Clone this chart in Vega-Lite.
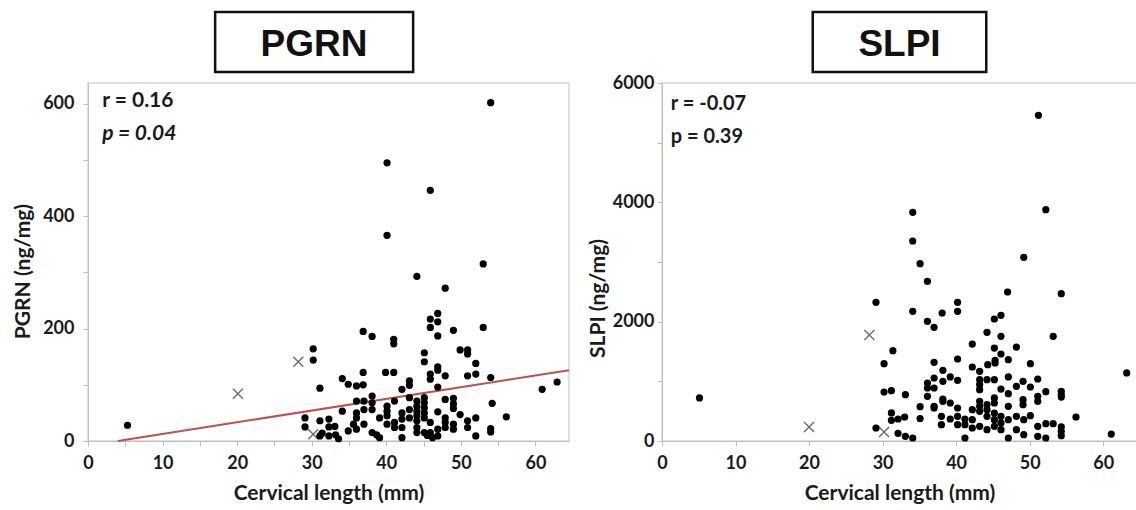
{
  "$schema": "https://vega.github.io/schema/vega-lite/v6.json",
  "padding": {"left": 11, "top": 10, "right": 0, "bottom": 0},
  "background": "white",
  "config": {"font": "Lato", "view": {"stroke": null}},
  "datasets": {
    "pgrnDots": [
      {"cl":5.3,"v":28},{"cl":29.1,"v":41},{"cl":29.1,"v":25},{"cl":30.2,"v":164},{"cl":30.2,"v":144},{"cl":31.1,"v":94},{"cl":31.1,"v":36},{"cl":31.1,"v":9},{"cl":31.4,"v":14},{"cl":32.3,"v":39},{"cl":32.3,"v":25},{"cl":32.3,"v":9},{"cl":33.1,"v":26},{"cl":33.2,"v":11},{"cl":33.6,"v":4},
      {"cl":34.1,"v":111},{"cl":34.1,"v":53},{"cl":34.9,"v":101},{"cl":34.9,"v":18},{"cl":35.6,"v":30},{"cl":36.0,"v":98},{"cl":36.0,"v":71},{"cl":36.0,"v":50},{"cl":36.0,"v":41},{"cl":36.0,"v":21},
      {"cl":36.9,"v":122},{"cl":36.9,"v":100},{"cl":36.9,"v":195},{"cl":37.0,"v":71},{"cl":37.0,"v":56},{"cl":37.0,"v":30},{"cl":38.1,"v":186},{"cl":38.1,"v":80},{"cl":38.1,"v":68},{"cl":38.1,"v":56},{"cl":38.1,"v":15},
      {"cl":38.7,"v":11},{"cl":39.1,"v":41},{"cl":39.1,"v":6},{"cl":39.9,"v":122},{"cl":40.1,"v":495},{"cl":40.1,"v":366},{"cl":40.1,"v":62},{"cl":40.1,"v":53},{"cl":40.1,"v":45},{"cl":40.1,"v":30},
      {"cl":41.0,"v":181},{"cl":41.0,"v":173},{"cl":41.0,"v":122},{"cl":41.1,"v":71},{"cl":41.1,"v":33},{"cl":41.1,"v":24},{"cl":42.1,"v":92},{"cl":42.1,"v":50},{"cl":42.1,"v":39},{"cl":42.1,"v":24},{"cl":42.1,"v":6},
      {"cl":43.1,"v":107},{"cl":43.1,"v":99},{"cl":43.1,"v":77},{"cl":43.1,"v":56},{"cl":43.1,"v":41},{"cl":44.1,"v":293},{"cl":44.1,"v":71},{"cl":44.1,"v":62},{"cl":44.1,"v":53},{"cl":44.1,"v":45},{"cl":44.1,"v":36},{"cl":44.1,"v":24},{"cl":44.1,"v":15},
      {"cl":45.1,"v":157},{"cl":45.1,"v":141},{"cl":45.1,"v":77},{"cl":45.1,"v":68},{"cl":45.1,"v":59},{"cl":45.1,"v":50},{"cl":45.1,"v":41},{"cl":45.1,"v":15},{"cl":45.5,"v":10},
      {"cl":45.9,"v":446},{"cl":45.9,"v":217},{"cl":45.9,"v":202},{"cl":45.9,"v":119},{"cl":45.9,"v":110},{"cl":45.9,"v":33},{"cl":45.9,"v":15},{"cl":46.2,"v":6},
      {"cl":46.9,"v":227},{"cl":46.9,"v":212},{"cl":46.9,"v":187},{"cl":46.9,"v":132},{"cl":46.9,"v":126},{"cl":46.9,"v":96},{"cl":46.9,"v":52},{"cl":46.9,"v":21},{"cl":46.9,"v":9},
      {"cl":47.9,"v":272},{"cl":47.9,"v":116},{"cl":47.9,"v":74},{"cl":47.9,"v":41},{"cl":47.9,"v":33},{"cl":47.9,"v":24},
      {"cl":49.0,"v":197},{"cl":49.0,"v":76},{"cl":49.0,"v":66},{"cl":49.0,"v":58},{"cl":49.0,"v":30},{"cl":49.0,"v":21},{"cl":49.9,"v":162},{"cl":49.9,"v":47},
      {"cl":50.9,"v":162},{"cl":50.9,"v":155},{"cl":50.9,"v":116},{"cl":50.9,"v":36},{"cl":50.9,"v":24},{"cl":52.0,"v":138},{"cl":52.0,"v":119},{"cl":52.0,"v":41},{"cl":52.0,"v":9},
      {"cl":53.0,"v":315},{"cl":53.0,"v":202},{"cl":54.0,"v":602},{"cl":54.0,"v":113},{"cl":54.2,"v":67},{"cl":54.0,"v":22},{"cl":54.0,"v":16},{"cl":56.1,"v":43},{"cl":60.9,"v":92},{"cl":62.9,"v":105}
    ],
    "pgrnCross": [{"cl":20.1,"v":84},{"cl":28.2,"v":141},{"cl":30.2,"v":12}],
    "pgrnFit": [{"cl":4.0,"v":0},{"cl":64.5,"v":126}],
    "slpiDots": [
      {"cl":5.1,"v":721},{"cl":29.1,"v":2325},{"cl":29.1,"v":218},{"cl":30.2,"v":1296},{"cl":30.2,"v":821},{"cl":31.2,"v":843},{"cl":31.4,"v":1513},{"cl":31.2,"v":470},{"cl":31.2,"v":347},{"cl":32.1,"v":369},{"cl":33.0,"v":402},{"cl":33.1,"v":776},{"cl":32.1,"v":128},{"cl":33.1,"v":79},{"cl":34.1,"v":50},
      {"cl":34.1,"v":3833},{"cl":34.1,"v":3352},{"cl":34.1,"v":2173},{"cl":35.1,"v":2971},{"cl":35.1,"v":575},{"cl":35.1,"v":377},{"cl":36.1,"v":2676},{"cl":36.1,"v":2006},{"cl":37.0,"v":1905},{"cl":38.1,"v":2145},
      {"cl":40.2,"v":2325},{"cl":40.2,"v":2173},{"cl":44.2,"v":1821},{"cl":45.2,"v":2045},{"cl":46.1,"v":2107},{"cl":46.1,"v":1755},{"cl":47.0,"v":2497},{"cl":49.2,"v":3078},{"cl":51.2,"v":5458},{"cl":52.2,"v":3877},{"cl":54.3,"v":2469},{"cl":53.2,"v":1755},
      {"cl":48.2,"v":1575},{"cl":42.2,"v":1625},{"cl":45.2,"v":1558},{"cl":46.1,"v":1458},{"cl":47.1,"v":1363},{"cl":40.2,"v":1374},{"cl":37.0,"v":1318},{"cl":50.1,"v":1296},{"cl":63.2,"v":1140},{"cl":42.2,"v":1240},{"cl":44.3,"v":1279},{"cl":45.3,"v":1307},{"cl":45.3,"v":1352},
      {"cl":38.2,"v":1185},{"cl":43.2,"v":1168},{"cl":37.0,"v":1056},{"cl":38.2,"v":1000},{"cl":39.2,"v":1073},{"cl":40.2,"v":1017},{"cl":36.1,"v":972},{"cl":36.1,"v":888},{"cl":37.0,"v":888},
      {"cl":43.2,"v":1028},{"cl":43.2,"v":944},{"cl":43.2,"v":860},{"cl":44.2,"v":1028},{"cl":45.2,"v":1028},{"cl":47.1,"v":1073},{"cl":48.2,"v":917},{"cl":49.1,"v":1000},{"cl":50.1,"v":905},{"cl":51.1,"v":1039},{"cl":52.2,"v":826},
      {"cl":54.3,"v":833},{"cl":54.3,"v":776},{"cl":54.3,"v":737},{"cl":46.1,"v":871},{"cl":47.1,"v":793},{"cl":36.1,"v":749},{"cl":37.0,"v":553},{"cl":38.2,"v":704},{"cl":38.2,"v":665},{"cl":39.2,"v":637},
      {"cl":40.2,"v":553},{"cl":40.2,"v":414},{"cl":40.2,"v":273},{"cl":41.2,"v":369},{"cl":41.2,"v":273},{"cl":42.2,"v":525},{"cl":42.2,"v":357},{"cl":42.2,"v":218},
      {"cl":43.2,"v":665},{"cl":43.2,"v":581},{"cl":43.2,"v":497},{"cl":43.2,"v":246},{"cl":44.2,"v":609},{"cl":44.2,"v":525},{"cl":44.2,"v":414},{"cl":44.2,"v":190},
      {"cl":45.2,"v":721},{"cl":45.2,"v":637},{"cl":45.2,"v":469},{"cl":45.2,"v":357},{"cl":45.2,"v":246},{"cl":46.1,"v":414},{"cl":46.1,"v":302},{"cl":46.1,"v":190},{"cl":47.1,"v":581},{"cl":47.1,"v":357},{"cl":47.1,"v":50},
      {"cl":48.2,"v":414},{"cl":48.2,"v":190},{"cl":49.1,"v":693},{"cl":49.1,"v":609},{"cl":49.2,"v":357},{"cl":49.2,"v":106},{"cl":50.1,"v":424},{"cl":51.1,"v":749},{"cl":51.1,"v":665},{"cl":51.1,"v":246},{"cl":51.1,"v":79},
      {"cl":52.2,"v":290},{"cl":52.2,"v":50},{"cl":53.2,"v":290},{"cl":54.3,"v":235},{"cl":54.3,"v":163},{"cl":54.3,"v":89},{"cl":56.3,"v":402},{"cl":61.1,"v":117},{"cl":41.2,"v":50},{"cl":38.0,"v":414},{"cl":38.0,"v":273},{"cl":39.2,"v":369},{"cl":37.0,"v":581}
    ],
    "slpiCross": [{"cl":20.0,"v":235},{"cl":28.2,"v":1776},{"cl":30.2,"v":150}]
  },
  "hconcat": [
    {
      "spacing": 11,
      "bounds": "flush",
      "vconcat": [
        {
          "width": 481, "height": 60,
          "data": {"values": [{"name": "PGRN"}]},
          "layer": [
            {"mark": {"type": "rect", "fill": "white", "stroke": "#111111", "strokeWidth": 2.5},
             "encoding": {"x": {"datum": 17.05, "type": "quantitative", "scale": {"domain": [0, 64.5], "nice": false, "zero": false}, "axis": null}, "x2": {"datum": 43.6}}},
            {"mark": {"type": "text", "font": "Liberation Sans", "fontSize": 37, "fontWeight": "bold", "color": "#111111", "baseline": "middle", "dy": 3},
             "encoding": {"x": {"datum": 30.3, "type": "quantitative"}, "text": {"field": "name"}}}
          ]
        },
        {
          "width": 481, "height": 358,
          "view": {"stroke": "#d6d6d6", "strokeWidth": 1.5},
          "layer": [
            {"data": {"name": "pgrnFit"}, "mark": {"type": "line", "color": "#c0504d", "strokeWidth": 2},
             "encoding": {
              "x": {"field": "cl", "type": "quantitative", "scale": {"domain": [0, 64.5], "nice": false, "zero": false},
                "axis": {"title": "Cervical length (mm)", "values": [0,5,10,15,20,25,30,35,40,45,50,55,60], "labelExpr": "datum.value % 10 === 0 ? datum.label : ''", "grid": false, "labelFlush": false, "tickSize": 5, "labelPadding": 8, "titlePadding": 10, "domainColor": "#bdbdbd", "tickColor": "#bdbdbd", "labelFontSize": 18, "labelFontWeight": "bold", "labelColor": "#1a1a1a", "titleFontSize": 21, "titleFontWeight": "bold", "titleColor": "#1a1a1a"}},
              "y": {"field": "v", "type": "quantitative", "scale": {"domain": [0, 637], "nice": false, "zero": false},
                "axis": {"title": "PGRN (ng/mg)", "titleY": 188, "values": [0,100,200,300,400,500,600], "labelExpr": "datum.value % 200 === 0 ? datum.label : ''", "grid": false, "tickSize": 5, "labelPadding": 9, "titlePadding": 9, "domainColor": "#bdbdbd", "tickColor": "#bdbdbd", "labelFontSize": 18, "labelFontWeight": "bold", "labelColor": "#1a1a1a", "titleFontSize": 21, "titleFontWeight": "bold", "titleColor": "#1a1a1a"}}
             }},
            {"data": {"name": "pgrnCross"}, "mark": {"type": "point", "shape": "M-1,-1L1,1M-1,1L1,-1", "filled": false, "stroke": "#6e6e6e", "strokeWidth": 1.5, "size": 100, "opacity": 1},
             "encoding": {"x": {"field": "cl", "type": "quantitative"}, "y": {"field": "v", "type": "quantitative"}}},
            {"data": {"name": "pgrnDots"}, "mark": {"type": "circle", "color": "#000000", "size": 52, "opacity": 1},
             "encoding": {"x": {"field": "cl", "type": "quantitative"}, "y": {"field": "v", "type": "quantitative"}}},
            {"data": {"values": [{"label": "r = 0.16"}]}, "mark": {"type": "text", "align": "left", "baseline": "middle", "fontSize": 21, "fontWeight": "bold", "color": "#1a1a1a"},
             "encoding": {"x": {"datum": 1.9, "type": "quantitative"}, "y": {"datum": 605, "type": "quantitative"}, "text": {"field": "label"}}},
            {"data": {"values": [{"label": "p = 0.04"}]}, "mark": {"type": "text", "align": "left", "baseline": "middle", "fontSize": 21, "fontWeight": "bold", "fontStyle": "italic", "color": "#1a1a1a"},
             "encoding": {"x": {"datum": 1.9, "type": "quantitative"}, "y": {"datum": 547, "type": "quantitative"}, "text": {"field": "label"}}}
          ]
        }
      ]
    },
    {
      "spacing": 11,
      "bounds": "flush",
      "vconcat": [
        {
          "width": 475, "height": 60,
          "data": {"values": [{"name": "SLPI"}]},
          "layer": [
            {"mark": {"type": "rect", "fill": "white", "stroke": "#111111", "strokeWidth": 2.5},
             "encoding": {"x": {"datum": 20.5, "type": "quantitative", "scale": {"domain": [0, 64.6], "nice": false, "zero": false}, "axis": null}, "x2": {"datum": 44.1}}},
            {"mark": {"type": "text", "font": "Liberation Sans", "fontSize": 37, "fontWeight": "bold", "color": "#111111", "baseline": "middle", "dy": 3},
             "encoding": {"x": {"datum": 32.3, "type": "quantitative"}, "text": {"field": "name"}}}
          ]
        },
        {
          "width": 475, "height": 358,
          "view": {"stroke": "#d6d6d6", "strokeWidth": 1.5},
          "layer": [
            {"data": {"name": "slpiCross"}, "mark": {"type": "point", "shape": "M-1,-1L1,1M-1,1L1,-1", "filled": false, "stroke": "#6e6e6e", "strokeWidth": 1.5, "size": 100, "opacity": 1},
             "encoding": {
              "x": {"field": "cl", "type": "quantitative", "scale": {"domain": [0, 64.6], "nice": false, "zero": false},
                "axis": {"title": "Cervical length (mm)", "values": [0,5,10,15,20,25,30,35,40,45,50,55,60], "labelExpr": "datum.value % 10 === 0 ? datum.label : ''", "grid": false, "labelFlush": false, "tickSize": 5, "labelPadding": 8, "titlePadding": 10, "domainColor": "#bdbdbd", "tickColor": "#bdbdbd", "labelFontSize": 18, "labelFontWeight": "bold", "labelColor": "#1a1a1a", "titleFontSize": 21, "titleFontWeight": "bold", "titleColor": "#1a1a1a"}},
              "y": {"field": "v", "type": "quantitative", "scale": {"domain": [0, 6000], "nice": false, "zero": false},
                "axis": {"title": "SLPI (ng/mg)", "titleY": 215, "format": "d", "values": [0,500,1000,1500,2000,2500,3000,3500,4000,4500,5000,5500,6000], "labelExpr": "datum.value % 2000 === 0 ? datum.label : ''", "grid": false, "tickSize": 5, "labelPadding": 3, "titlePadding": 4, "domainColor": "#bdbdbd", "tickColor": "#bdbdbd", "labelFontSize": 18, "labelFontWeight": "bold", "labelColor": "#1a1a1a", "titleFontSize": 21, "titleFontWeight": "bold", "titleColor": "#1a1a1a"}}
             }},
            {"data": {"name": "slpiDots"}, "mark": {"type": "circle", "color": "#000000", "size": 52, "opacity": 1},
             "encoding": {"x": {"field": "cl", "type": "quantitative"}, "y": {"field": "v", "type": "quantitative"}}},
            {"data": {"values": [{"label": "r = -0.07"}]}, "mark": {"type": "text", "align": "left", "baseline": "middle", "fontSize": 20, "fontWeight": "bold", "color": "#1a1a1a"},
             "encoding": {"x": {"datum": 1.2, "type": "quantitative"}, "y": {"datum": 5648, "type": "quantitative"}, "text": {"field": "label"}}},
            {"data": {"values": [{"label": "p = 0.39"}]}, "mark": {"type": "text", "align": "left", "baseline": "middle", "fontSize": 20, "fontWeight": "bold", "color": "#1a1a1a"},
             "encoding": {"x": {"datum": 1.2, "type": "quantitative"}, "y": {"datum": 5094, "type": "quantitative"}, "text": {"field": "label"}}}
          ]
        }
      ]
    }
  ],
  "spacing": 12
}
